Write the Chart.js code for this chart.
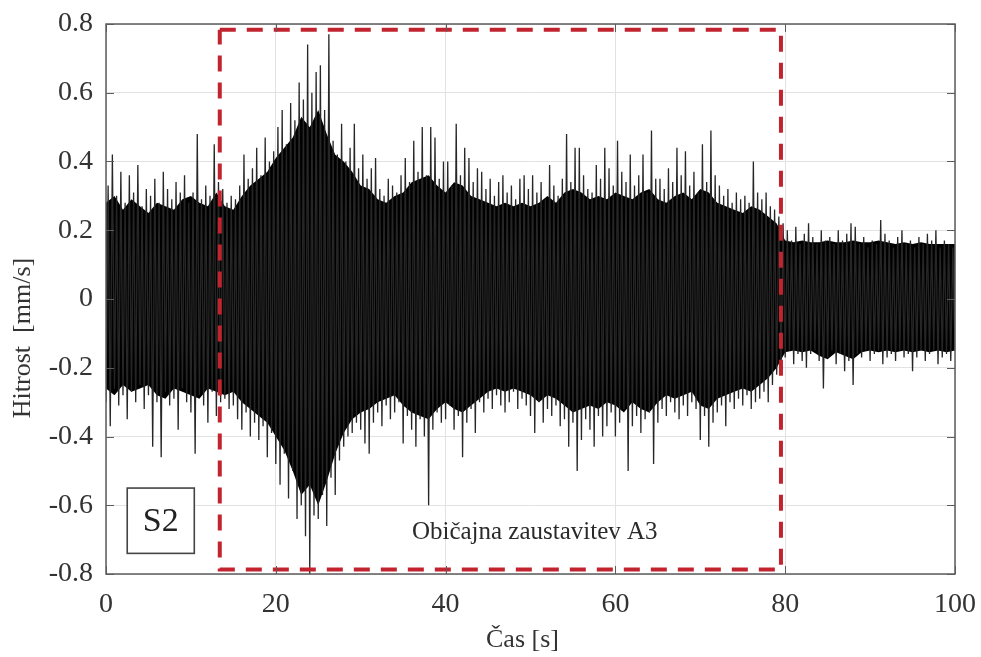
<!DOCTYPE html>
<html>
<head>
<meta charset="utf-8">
<script src="https://cdn.jsdelivr.net/npm/chart.js@4.4.1/dist/chart.umd.min.js"></script>
<style>
  html, body { margin: 0; padding: 0; background: #fff; }
  #wrap { width: 981px; height: 657px; }
</style>
</head>
<body>
<div id="wrap"><canvas id="velocityCanvas" width="981" height="657"></canvas></div>
<script>
// positive peaks of the velocity signal, one every 0.5 s starting at t = 0.25 s
const upperPeaks = [
  0.33, 0.42, 0.30, 0.37, 0.28, 0.36, 0.31, 0.39, 0.27, 0.32,
  0.30, 0.35, 0.28, 0.37, 0.32, 0.29, 0.34, 0.31, 0.36, 0.28,
  0.31, 0.48, 0.29, 0.33, 0.30, 0.45, 0.34, 0.32, 0.28, 0.30,
  0.29, 0.33, 0.42, 0.35, 0.38, 0.44, 0.36, 0.47, 0.40, 0.43,
  0.50, 0.55, 0.45, 0.57, 0.52, 0.63, 0.58, 0.74, 0.60, 0.66,
  0.68, 0.55, 0.77, 0.46, 0.42, 0.51, 0.40, 0.44, 0.51, 0.38,
  0.42, 0.35, 0.38, 0.41, 0.32, 0.30, 0.35, 0.33, 0.31, 0.36,
  0.41, 0.34, 0.46, 0.37, 0.50, 0.36, 0.50, 0.47, 0.35, 0.40,
  0.40, 0.33, 0.51, 0.36, 0.44, 0.41, 0.34, 0.38, 0.37, 0.32,
  0.35, 0.30, 0.34, 0.36, 0.31, 0.33, 0.29, 0.35, 0.36, 0.32,
  0.36, 0.31, 0.34, 0.29, 0.39, 0.33, 0.30, 0.35, 0.48, 0.34,
  0.44, 0.44, 0.36, 0.32, 0.31, 0.39, 0.35, 0.44, 0.38, 0.33,
  0.46, 0.37, 0.34, 0.42, 0.33, 0.36, 0.42, 0.31, 0.49, 0.35,
  0.35, 0.32, 0.38, 0.34, 0.44, 0.36, 0.43, 0.33, 0.37, 0.31,
  0.45, 0.34, 0.49, 0.36, 0.33, 0.30, 0.32, 0.28, 0.31, 0.29,
  0.30, 0.28, 0.40, 0.31, 0.29, 0.31, 0.27, 0.26, 0.24, 0.22,
  0.20, 0.17, 0.21, 0.16, 0.19, 0.22, 0.18, 0.16, 0.20, 0.17,
  0.18, 0.16, 0.20, 0.17, 0.19, 0.22, 0.21, 0.16, 0.18, 0.15,
  0.17, 0.16, 0.23, 0.19, 0.17, 0.15, 0.18, 0.20, 0.16, 0.17,
  0.15, 0.18, 0.16, 0.19, 0.17, 0.20, 0.15, 0.17, 0.16, 0.15
];

// negative peaks, one every 0.5 s starting at t = 0 s
const lowerPeaks = [
  -0.30, -0.37, -0.26, -0.31, -0.28, -0.35, -0.27, -0.30, -0.25, -0.32,
  -0.28, -0.43, -0.30, -0.46, -0.27, -0.31, -0.29, -0.38, -0.26, -0.30,
  -0.33, -0.45, -0.28, -0.31, -0.36, -0.27, -0.34, -0.30, -0.29, -0.32,
  -0.31, -0.35, -0.38, -0.33, -0.40, -0.36, -0.41, -0.37, -0.46, -0.39,
  -0.48, -0.54, -0.45, -0.58, -0.50, -0.64, -0.60, -0.69, -0.80, -0.63,
  -0.64, -0.57, -0.66, -0.52, -0.57, -0.47, -0.43, -0.40, -0.39, -0.36,
  -0.38, -0.42, -0.45, -0.36, -0.33, -0.37, -0.31, -0.35, -0.33, -0.30,
  -0.42, -0.34, -0.38, -0.43, -0.35, -0.40, -0.60, -0.38, -0.33, -0.36,
  -0.35, -0.31, -0.38, -0.34, -0.46, -0.36, -0.32, -0.39, -0.30, -0.33,
  -0.29, -0.32, -0.28, -0.31, -0.33, -0.30, -0.27, -0.32, -0.29, -0.31,
  -0.34, -0.39, -0.30, -0.36, -0.32, -0.34, -0.31, -0.37, -0.35, -0.43,
  -0.36, -0.50, -0.41, -0.35, -0.38, -0.43, -0.34, -0.40, -0.37, -0.33,
  -0.40, -0.36, -0.32, -0.50, -0.37, -0.34, -0.39, -0.35, -0.33, -0.48,
  -0.36, -0.32, -0.34, -0.30, -0.33, -0.35, -0.31, -0.34, -0.30, -0.32,
  -0.41, -0.34, -0.43, -0.36, -0.33, -0.31, -0.37, -0.30, -0.32, -0.29,
  -0.31, -0.28, -0.32, -0.30, -0.29, -0.27, -0.30, -0.25, -0.22, -0.21,
  -0.17, -0.15, -0.19, -0.16, -0.18, -0.20, -0.16, -0.15, -0.18, -0.26,
  -0.17, -0.15, -0.19, -0.16, -0.21, -0.18, -0.25, -0.16, -0.17, -0.15,
  -0.18, -0.16, -0.15, -0.19, -0.17, -0.16, -0.18, -0.15, -0.17, -0.16,
  -0.21, -0.17, -0.15, -0.18, -0.16, -0.15, -0.19, -0.17, -0.16, -0.18,
  -0.15
];

// edge of the solid black mass, one value per second (t = 0 ... 100 s)
const massUpper = [
  0.28, 0.30, 0.26, 0.29, 0.27, 0.25, 0.28, 0.27, 0.26, 0.29,
  0.30, 0.28, 0.27, 0.31, 0.27, 0.26, 0.30, 0.33, 0.35, 0.37,
  0.41, 0.44, 0.47, 0.53, 0.50, 0.55, 0.48, 0.42, 0.40, 0.37,
  0.33, 0.32, 0.29, 0.28, 0.30, 0.31, 0.34, 0.35, 0.36, 0.33,
  0.31, 0.34, 0.33, 0.30, 0.29, 0.28, 0.27, 0.28, 0.27, 0.28,
  0.27, 0.28, 0.30, 0.28, 0.31, 0.32, 0.31, 0.29, 0.30, 0.29,
  0.31, 0.30, 0.29, 0.31, 0.32, 0.29, 0.28, 0.30, 0.31, 0.29,
  0.32, 0.31, 0.28, 0.27, 0.26, 0.25, 0.27, 0.26, 0.24, 0.22,
  0.17, 0.165, 0.17, 0.165, 0.165, 0.17, 0.165, 0.165, 0.17, 0.165,
  0.165, 0.17, 0.165, 0.16, 0.165, 0.16, 0.165, 0.16, 0.16, 0.16,
  0.16
];
const massLower = [
  -0.26, -0.28, -0.25, -0.27, -0.26, -0.25, -0.28, -0.29, -0.26, -0.27,
  -0.28, -0.29, -0.26, -0.27, -0.28, -0.27, -0.30, -0.32, -0.34, -0.36,
  -0.40, -0.44, -0.50, -0.57, -0.54, -0.60, -0.53, -0.45, -0.39, -0.35,
  -0.33, -0.32, -0.30, -0.29, -0.28, -0.31, -0.33, -0.34, -0.35, -0.32,
  -0.30, -0.32, -0.33, -0.31, -0.29, -0.27, -0.26, -0.27, -0.26, -0.27,
  -0.28, -0.30, -0.28, -0.29, -0.31, -0.33, -0.32, -0.31, -0.32, -0.30,
  -0.31, -0.33, -0.30, -0.32, -0.33, -0.30, -0.28, -0.29, -0.28, -0.27,
  -0.31, -0.32, -0.29, -0.28, -0.27, -0.26, -0.27, -0.25, -0.23, -0.20,
  -0.155, -0.15, -0.155, -0.15, -0.165, -0.175, -0.155, -0.165, -0.175, -0.155,
  -0.15, -0.155, -0.15, -0.155, -0.15, -0.155, -0.15, -0.155, -0.15, -0.155,
  -0.15
];

const peakSpacing = 0.5;           // s between peaks of the same sign
const massSpacing = 1;             // s between mass edge samples
const xTicks = [0, 20, 40, 60, 80, 100];
const yTicks = [-0.8, -0.6, -0.4, -0.2, 0, 0.2, 0.4, 0.6, 0.8];

// red dashed window "Običajna zaustavitev A3"
const windowTimes = [13.4, 79.5];
const windowLevels = [0.783, -0.787];
const windowLabel = 'Običajna zaustavitev A3';
const windowLabelAt = { x: 50.5, y: -0.68 };

// station label box
const stationLabel = 'S2';
const stationBoxTimes = [2.5, 10.4];
const stationBoxLevels = [-0.55, -0.74];

const xTitle = 'Čas [s]';
const yTitle = 'Hitrost  [mm/s]';
const serif = '"Liberation Serif", "DejaVu Serif", serif';

function buildSignal() {
  const points = [];
  for (let i = 0; i < lowerPeaks.length; i += 1) {
    points.push({ x: i * peakSpacing, y: lowerPeaks[i] });
    if (i < upperPeaks.length) {
      points.push({ x: i * peakSpacing + peakSpacing / 2, y: upperPeaks[i] });
    }
  }
  return points;
}

function buildMass(levels) {
  return levels.map((v, i) => ({ x: i * massSpacing, y: v }));
}

function buildWindow() {
  const [t0, t1] = windowTimes;
  const [top, bottom] = windowLevels;
  return [
    { x: t0, y: top }, { x: t1, y: top },
    { x: t1, y: bottom }, { x: t0, y: bottom },
    { x: t0, y: top }
  ];
}

const framePlugin = {
  id: 'matlabFrame',
  afterDatasetsDraw(chart) {
    const { ctx, chartArea: area, scales } = chart;
    const xs = scales.x;
    const ys = scales.y;
    ctx.save();

    // axes box
    ctx.strokeStyle = '#5c5c5c';
    ctx.lineWidth = 1.5;
    ctx.strokeRect(area.left, area.top, area.right - area.left, area.bottom - area.top);

    // inward ticks on all four sides
    ctx.lineWidth = 1;
    ctx.beginPath();
    xTicks.forEach((value) => {
      const px = Math.round(xs.getPixelForValue(value)) + 0.5;
      ctx.moveTo(px, area.bottom); ctx.lineTo(px, area.bottom - 8);
      ctx.moveTo(px, area.top); ctx.lineTo(px, area.top + 8);
    });
    yTicks.forEach((value) => {
      const py = Math.round(ys.getPixelForValue(value)) + 0.5;
      ctx.moveTo(area.left, py); ctx.lineTo(area.left + 8, py);
      ctx.moveTo(area.right, py); ctx.lineTo(area.right - 8, py);
    });
    ctx.stroke();

    // station box
    const bx0 = xs.getPixelForValue(stationBoxTimes[0]);
    const bx1 = xs.getPixelForValue(stationBoxTimes[1]);
    const by0 = ys.getPixelForValue(stationBoxLevels[0]);
    const by1 = ys.getPixelForValue(stationBoxLevels[1]);
    ctx.fillStyle = '#ffffff';
    ctx.fillRect(bx0, by0, bx1 - bx0, by1 - by0);
    ctx.strokeStyle = '#444444';
    ctx.lineWidth = 1.6;
    ctx.strokeRect(bx0, by0, bx1 - bx0, by1 - by0);
    ctx.fillStyle = '#222222';
    ctx.font = '34px ' + serif;
    ctx.textAlign = 'center';
    ctx.textBaseline = 'middle';
    ctx.fillText(stationLabel, (bx0 + bx1) / 2, (by0 + by1) / 2 + 1);

    // window label
    ctx.font = '25px ' + serif;
    ctx.fillStyle = '#2a2a2a';
    ctx.fillText(windowLabel, xs.getPixelForValue(windowLabelAt.x), ys.getPixelForValue(windowLabelAt.y));

    ctx.restore();
  },
  afterDraw(chart) {
    const { ctx, chartArea: area } = chart;
    ctx.save();
    ctx.fillStyle = '#333333';
    ctx.font = '26px ' + serif;
    ctx.textAlign = 'center';
    ctx.textBaseline = 'middle';
    ctx.fillText(xTitle, (area.left + area.right) / 2 - 8, 640);
    ctx.translate(23, 338);
    ctx.rotate(-Math.PI / 2);
    ctx.fillText(yTitle, 0, 0);
    ctx.restore();
  }
};

function drawVelocityChart() {
  const canvas = document.getElementById('velocityCanvas');
  const signal = buildSignal();
  console.log('signal points:', signal.length);

  return new Chart(canvas.getContext('2d'), {
    type: 'line',
    data: {
      datasets: [
        {
          label: 'window',
          data: buildWindow(),
          borderColor: '#c1232f',
          borderWidth: 4,
          borderDash: [16, 11],
          pointRadius: 0,
          fill: false,
          tension: 0,
          order: 0
        },
        {
          label: 'Hitrost',
          data: signal,
          borderColor: '#262626',
          borderWidth: 1.3,
          pointRadius: 0,
          fill: false,
          tension: 0,
          order: 1
        },
        {
          label: 'mass upper',
          data: buildMass(massUpper),
          borderWidth: 0,
          backgroundColor: '#000000',
          pointRadius: 0,
          fill: '+1',
          tension: 0,
          order: 2
        },
        {
          label: 'mass lower',
          data: buildMass(massLower),
          borderWidth: 0,
          pointRadius: 0,
          fill: false,
          tension: 0,
          order: 3
        }
      ]
    },
    options: {
      responsive: false,
      animation: false,
      events: [],
      layout: { padding: { top: 24, right: 26, left: 0, bottom: 0 } },
      plugins: {
        legend: { display: false },
        tooltip: { enabled: false },
        title: { display: false }
      },
      scales: {
        x: {
          type: 'linear',
          min: 0,
          max: 100,
          afterFit(scale) {
            scale.height = 83;
            scale.paddingLeft = 0;
            scale.paddingRight = 0;
          },
          afterBuildTicks(scale) { scale.ticks = xTicks.map((value) => ({ value })); },
          grid: { color: '#e2e2e2', drawTicks: false },
          border: { display: false },
          ticks: {
            autoSkip: false,
            maxRotation: 0,
            padding: 14,
            color: '#333333',
            font: { family: serif, size: 28 }
          }
        },
        y: {
          min: -0.8,
          max: 0.8,
          afterFit(scale) {
            scale.width = 106;
            scale.paddingTop = 0;
            scale.paddingBottom = 0;
          },
          afterBuildTicks(scale) { scale.ticks = yTicks.map((value) => ({ value })); },
          grid: { color: '#e2e2e2', drawTicks: false },
          border: { display: false },
          ticks: {
            padding: 13,
            color: '#333333',
            font: { family: serif, size: 28 },
            callback(value) { return String(Math.round(value * 10) / 10); }
          }
        }
      }
    },
    plugins: [framePlugin]
  });
}

drawVelocityChart();
</script>
</body>
</html>
